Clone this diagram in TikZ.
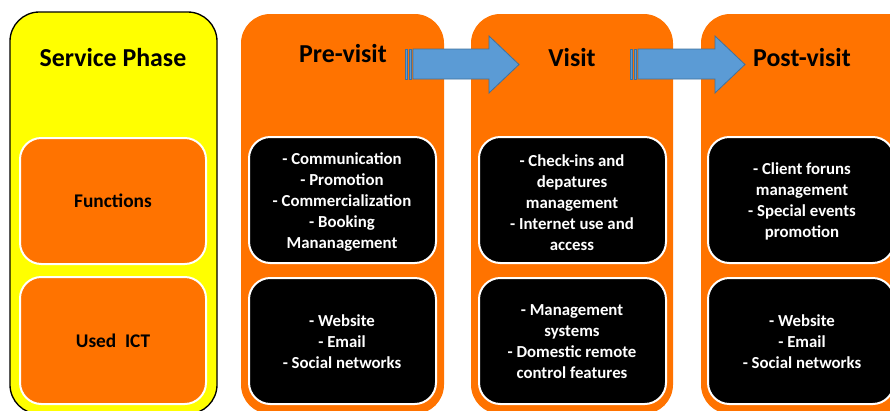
\documentclass[tikz,border=0pt]{standalone}
\usepackage{fontspec}
\setmainfont{Carlito}
\usepackage{tikz}

\definecolor{phaseyellow}{HTML}{FFFF00}
\definecolor{phaseorange}{HTML}{FF7300}
\definecolor{arrowblue}{HTML}{5B9BD5}
\definecolor{arrowedge}{HTML}{41719C}

\tikzset{
  heading/.style={font=\fontsize{19.4}{22}\selectfont\bfseries},
  rowtext/.style={font=\fontsize{14.5}{17}\selectfont\bfseries, align=center},
  lighttext/.style={font=\fontsize{12.6}{15.75}\selectfont\bfseries, align=center, text=white},
  column/.style={rounded corners=22pt},
  innerbox/.style={draw=white, line width=1.5pt, rounded corners=16pt},
  flowarrow/.style={fill=arrowblue, draw=arrowedge, line width=0.6pt}
}

\begin{document}
\begin{tikzpicture}[x=0.75pt,y=-0.75pt]
\useasboundingbox (0,0) rectangle (890,411);
\clip (0,0) rectangle (890,411);

% columns
\filldraw[column, fill=phaseyellow, draw=black, line width=1pt] (10,12) rectangle (217,414);
\fill[column, phaseorange] (241,14) rectangle (444,414);
\fill[column, phaseorange] (471,14) rectangle (673,414);
\fill[column, phaseorange] (701,14) rectangle (930,414);

% boxes
\filldraw[innerbox, fill=phaseorange] (20,138) rectangle (206,264);
\filldraw[innerbox, fill=phaseorange] (20,277) rectangle (206,404);
\filldraw[innerbox, fill=black] (249,137) rectangle (436,263);
\filldraw[innerbox, fill=black] (249,278) rectangle (436,404);
\filldraw[innerbox, fill=black] (479,137) rectangle (666,263);
\filldraw[innerbox, fill=black] (479,278) rectangle (666,404);
\filldraw[innerbox, fill=black] (708,137) rectangle (894,263);
\filldraw[innerbox, fill=black] (708,278) rectangle (894,404);

% arrows
\filldraw[flowarrow] (413,49) -- (489,49) -- (489,36) -- (519,64.5) -- (489,93) -- (489,79) -- (413,79) -- cycle;
\filldraw[flowarrow] (405,49) rectangle (407,79);
\filldraw[flowarrow] (409,49) rectangle (411,79);
\filldraw[flowarrow] (638,49) -- (715,49) -- (715,36) -- (745,64.5) -- (715,93) -- (715,79) -- (638,79) -- cycle;
\filldraw[flowarrow] (630,49) rectangle (632,79);
\filldraw[flowarrow] (634,49) rectangle (636,79);

% headings
\node[heading] (phase) at (113,58) {Service Phase};
\node[heading] (pre) at (343,54) {Pre-visit};
\node[heading] (visit) at (572,58) {Visit};
\node[heading] (post) at (802,58) {Post-visit};

% rows
\node[rowtext] (functions) at (113,201) {Functions};
\node[rowtext] (ict) at (113,341) {Used\ \ ICT};

\node[lighttext] (prefun) at (342,202.5) {- Communication\\- Promotion\\- Commercialization\\- Booking\\Mananagement};
\node[lighttext] (preict) at (342,341.5) {- Website\\- Email\\- Social networks};
\node[lighttext] (visitfun) at (572,202.5) {- Check-ins and\\depatures\\management\\- Internet use and\\access};
\node[lighttext] (visitict) at (572,341.5) {- Management\\systems\\- Domestic remote\\control features};
\node[lighttext] (postfun) at (802,201.5) {- Client foruns\\management\\- Special events\\promotion};
\node[lighttext] (postict) at (802,341.5) {- Website\\- Email\\- Social networks};
\end{tikzpicture}
\end{document}
